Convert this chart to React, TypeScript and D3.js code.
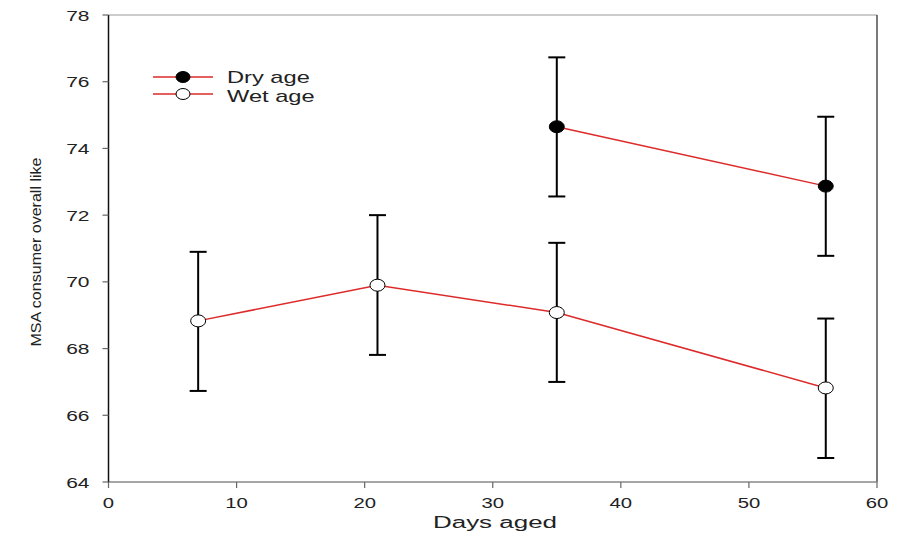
import React from "react";
import * as d3 from "d3";

const dryDays = [35, 56];
const dryMean = [74.65, 72.87];
const dryLow = [72.56, 70.78];
const dryHigh = [76.73, 74.95];

const wetDays = [7, 21, 35, 56];
const wetMean = [68.83, 69.9, 69.08, 66.82];
const wetLow = [66.73, 67.81, 67.0, 64.72];
const wetHigh = [70.9, 72.0, 71.17, 68.9];

const xTicks = [0, 10, 20, 30, 40, 50, 60];
const yTicks = [64, 66, 68, 70, 72, 74, 76, 78];

const W = 903, H = 539;
const L = 108.5, R = 877, T = 15, B = 482;

export default function App() {
  const x = d3.scaleLinear().domain([0, 60]).range([L, R]);
  const y = d3.scaleLinear().domain([64, 78]).range([B, T]);
  const font = "'Liberation Sans', Arial, sans-serif";
  const mk = (days: number[], mean: number[]) =>
    d3.line<number>().x((_, i) => x(days[i])).y((d) => y(d))(mean) || "";

  const series = [
    { days: dryDays, mean: dryMean, lo: dryLow, hi: dryHigh, fill: "#000" },
    { days: wetDays, mean: wetMean, lo: wetLow, hi: wetHigh, fill: "#fff" },
  ];
  const cap = 8.5;
  const sx = 1.4;

  return (
    <svg width={W} height={H} style={{ position: "absolute", left: 0, top: 0, background: "#fff" }}>
      <rect x={0} y={0} width={W} height={H} fill="#fff" />
      <line x1={L} y1={T} x2={R} y2={T} stroke="#999" strokeWidth={1.2} />
      <line x1={R} y1={T} x2={R} y2={B} stroke="#222" strokeWidth={1.2} />
      <line x1={L} y1={B} x2={R} y2={B} stroke="#888" strokeWidth={1.5} />
      <line x1={L} y1={T} x2={L} y2={B} stroke="#111" strokeWidth={1.5} />
      {xTicks.map((t) => (
        <g key={"x" + t}>
          <line x1={x(t)} x2={x(t)} y1={B} y2={B + 6} stroke="#666" strokeWidth={1.2} />
          <text transform={`translate(${x(t)},508) scale(${sx},1)`} textAnchor="middle" fontFamily={font} fontSize={14.5} fill="#222">{t}</text>
        </g>
      ))}
      {yTicks.map((t) => (
        <g key={"y" + t}>
          <line x1={L - 6} x2={L} y1={y(t)} y2={y(t)} stroke="#666" strokeWidth={1.2} />
          <text transform={`translate(89.5,${y(t) + 5.5}) scale(${sx},1)`} textAnchor="end" fontFamily={font} fontSize={15} fill="#222">{t}</text>
        </g>
      ))}
      <text x={495} y={528} textAnchor="middle" fontFamily={font} fontSize={16} fill="#222" textLength={124} lengthAdjust="spacingAndGlyphs">Days aged</text>
      <text transform={`translate(41,252) rotate(-90)`} textAnchor="middle" fontFamily={font} fontSize={14.5} fill="#222" textLength={189} lengthAdjust="spacingAndGlyphs">MSA consumer overall like</text>
      {series.map((s, k) => (
        <path key={"l" + k} d={mk(s.days, s.mean)} fill="none" stroke="#dd2a2a" strokeWidth={1.5} />
      ))}
      {series.map((s, k) => (
        <g key={"e" + k}>
          {s.days.map((d, i) => (
            <g key={i} stroke="#000" strokeWidth={2}>
              <line x1={x(d)} x2={x(d)} y1={y(s.lo[i])} y2={y(s.hi[i])} />
              <line x1={x(d) - cap} x2={x(d) + cap} y1={y(s.lo[i])} y2={y(s.lo[i])} />
              <line x1={x(d) - cap} x2={x(d) + cap} y1={y(s.hi[i])} y2={y(s.hi[i])} />
            </g>
          ))}
        </g>
      ))}
      {series.map((s, k) => (
        <g key={"m" + k}>
          {s.days.map((d, i) => (
            <ellipse key={i} cx={x(d)} cy={y(s.mean[i])} rx={7.5} ry={6} fill={s.fill} stroke="#000" strokeWidth={1} />
          ))}
        </g>
      ))}
      {[{ label: "Dry age", fill: "#000", yy: 77, ty: 82.5 }, { label: "Wet age", fill: "#fff", yy: 94, ty: 101.5 }].map((e) => (
        <g key={e.label}>
          <line x1={153} x2={213} y1={e.yy} y2={e.yy} stroke="#dd2a2a" strokeWidth={1.5} />
          <ellipse cx={183} cy={e.yy} rx={7} ry={5.5} fill={e.fill} stroke="#000" strokeWidth={1} />
          <text transform={`translate(227,${e.ty}) scale(1.48,1)`} fontFamily={font} fontSize={16} fill="#222">{e.label}</text>
        </g>
      ))}
    </svg>
  );
}
